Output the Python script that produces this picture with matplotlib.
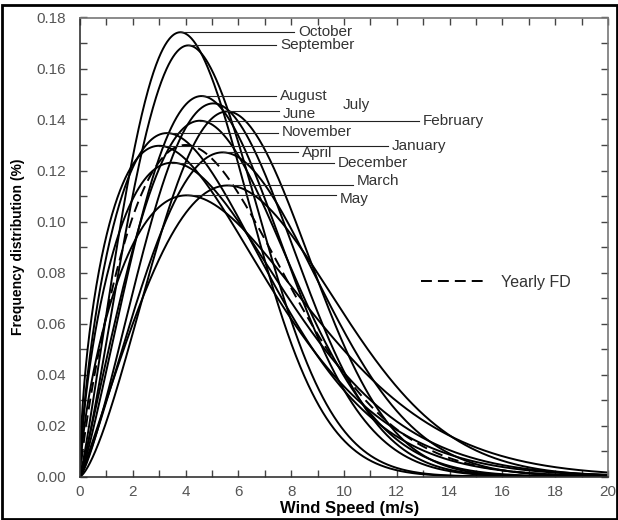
import numpy as np
import matplotlib
matplotlib.use("Agg")
import matplotlib.pyplot as plt
from matplotlib.patches import Rectangle
from matplotlib.ticker import MultipleLocator, FormatStrFormatter
from matplotlib.lines import Line2D
from matplotlib.transforms import offset_copy

plt.rcParams['font.family'] = ['Liberation Sans', 'DejaVu Sans']

# Monthly Weibull parameters (shape k, scale c in m/s)
months = ['January', 'February', 'March', 'April', 'May', 'June',
          'July', 'August', 'September', 'October', 'November', 'December']
shape_k = [1.556, 2.06, 2.07, 2.18, 1.665, 2.44, 2.30, 2.18, 2.195, 2.125, 1.66, 1.635]
scale_c = [5.81, 6.27, 7.69, 7.16, 7.02, 6.92, 6.47, 6.10, 5.41, 5.13, 5.74, 6.24]

# Yearly frequency distribution
yearly_k = 1.815
yearly_c = 6.22

# Label placement: x of the text (m/s) and a small vertical nudge (points)
label_x = {'January': 11.8, 'February': 13.0, 'March': 10.5, 'April': 8.4,
           'May': 9.85, 'June': 7.69, 'July': 9.96, 'August': 7.58,
           'September': 7.58, 'October': 8.26, 'November': 7.65, 'December': 9.77}
label_dy = {'March': 3.0, 'May': -2.5, 'June': -1.5, 'July': -1.0,
            'April': -0.8, 'November': 0.8}
# months whose label has no leader line
no_leader = {'July'}


def weibull_pdf(v, k, c):
    return (k / c) * (v / c) ** (k - 1) * np.exp(-(v / c) ** k)


def weibull_mode(k, c):
    return c * ((k - 1) / k) ** (1 / k)


fig = plt.figure(figsize=(6.18, 5.20), dpi=100)
ax = fig.add_axes([80 / 618, 43.5 / 520, 528 / 618, 459 / 520])

v = np.linspace(0, 20, 1001)
for name, k, c in zip(months, shape_k, scale_c):
    ax.plot(v, weibull_pdf(v, k, c), color='black', lw=1.4, solid_capstyle='round')

ax.plot(v, weibull_pdf(v, yearly_k, yearly_c), color='black', lw=1.4,
        dashes=(5.6, 3.1))

# Month labels with horizontal leader lines from each curve's peak
for name, k, c in zip(months, shape_k, scale_c):
    m = weibull_mode(k, c)
    h = weibull_pdf(m, k, c)
    tx = label_x[name]
    if name not in no_leader:
        ax.plot([m, tx - 0.15], [h, h], color='#222222', lw=0.8)
    trans = offset_copy(ax.transData, fig=fig, x=0, y=label_dy.get(name, 0.0),
                        units='points')
    ax.text(tx, h, name, fontsize=11, color='#333333', va='center', ha='left',
            transform=trans)

# Legend for the yearly curve
handle = Line2D([], [], color='black', lw=1.4, dashes=(5.6, 3.1))
ax.legend([handle], ['Yearly FD'], loc='center left',
          bbox_to_anchor=(341 / 528, (476.5 - 282) / 459), frameon=False,
          borderpad=0, borderaxespad=0, handlelength=4.2, handletextpad=0.8,
          prop={'size': 11.5}, labelcolor='#333333')

ax.set_xlim(0, 20)
ax.set_ylim(0, 0.18)
ax.xaxis.set_major_locator(MultipleLocator(2))
ax.xaxis.set_minor_locator(MultipleLocator(1))
ax.yaxis.set_major_locator(MultipleLocator(0.02))
ax.yaxis.set_minor_locator(MultipleLocator(0.01))
ax.yaxis.set_major_formatter(FormatStrFormatter('%.2f'))
ax.tick_params(which='both', direction='in', length=5, width=1, color='#444444',
               top=True, right=True)
ax.tick_params(axis='x', which='major', pad=6, labelsize=11, labelcolor='#555555')
ax.tick_params(axis='y', which='major', pad=10, labelsize=11, labelcolor='#555555')

for side in ['bottom', 'left']:
    ax.spines[side].set_color('#333333')
    ax.spines[side].set_linewidth(1.2)
for side in ['top', 'right']:
    ax.spines[side].set_color('#777777')
    ax.spines[side].set_linewidth(1.2)

ax.set_xlabel('Wind Speed (m/s)', fontsize=12, fontweight='bold', va='center')
ax.xaxis.set_label_coords((350 - 80) / 528, (476.5 - 509) / 459)
ax.set_ylabel('Frequency distribution (%)', fontsize=10, fontweight='bold', labelpad=8)

fig.add_artist(Rectangle((2 / 618, 1 / 520), 614.5 / 618, 514 / 520,
                         transform=fig.transFigure, fill=False, lw=2.0,
                         edgecolor='black'))

fig.savefig('out.png', dpi=100)
